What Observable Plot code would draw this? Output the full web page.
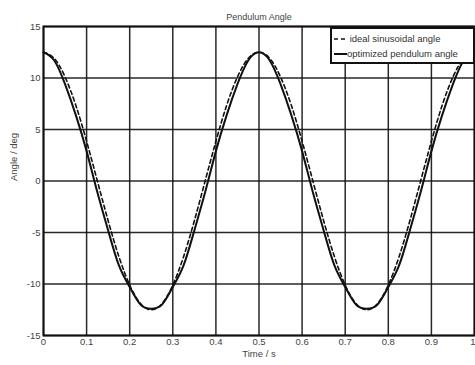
<!DOCTYPE html>
<html><head><meta charset="utf-8">
<script src="https://cdn.jsdelivr.net/npm/d3@7"></script>
<script src="https://cdn.jsdelivr.net/npm/@observablehq/plot@0.6"></script>
<style>
body{margin:0;background:#fff;overflow:hidden}
#wrap{position:relative;width:475px;height:365px}
#legend{position:absolute;left:330px;top:27px;width:141px;height:33px;border:2px solid #111;background:#fff;font-family:"Liberation Sans",Arial,sans-serif;font-size:9.5px;color:#333}
#legend .row{position:absolute;left:2px;height:14px;line-height:14px;white-space:nowrap}
#legend svg{vertical-align:middle}
</style>
</head><body>
<div id="wrap"><div id="legend"></div></div>
<script>
const title = "Pendulum Angle";
const xLabel = "Time / s";
const yLabel = "Angle / deg";
const seriesNames = ["ideal sinusoidal angle", "optimized pendulum angle"];
const xTicks = [0, 0.1, 0.2, 0.3, 0.4, 0.5, 0.6, 0.7, 0.8, 0.9, 1];
const yTicks = [-15, -10, -5, 0, 5, 10, 15];

const times = [0, 0.025, 0.05, 0.075, 0.1, 0.125, 0.15, 0.175, 0.2, 0.225, 0.25,
  0.275, 0.3, 0.325, 0.35, 0.375, 0.4, 0.425, 0.45, 0.475, 0.5,
  0.525, 0.55, 0.575, 0.6, 0.625, 0.65, 0.675, 0.7, 0.725, 0.75,
  0.775, 0.8, 0.825, 0.85, 0.875, 0.9, 0.925, 0.95, 0.975, 1];
const ideal = [12.5, 11.9, 10.1, 7.35, 3.86, 0, -3.86, -7.35, -10.1, -11.9, -12.5,
  -11.9, -10.1, -7.35, -3.86, 0, 3.86, 7.35, 10.1, 11.9, 12.5,
  11.9, 10.1, 7.35, 3.86, 0, -3.86, -7.35, -10.1, -11.9, -12.5,
  -11.9, -10.1, -7.35, -3.86, 0, 3.86, 7.35, 10.1, 11.9, 12.5];
const optimized = [12.5, 11.7, 9.4, 6.4, 2.9, -1.1, -4.8, -8.2, -10.3, -12.0, -12.4,
  -12.0, -10.3, -8.2, -4.8, -1.1, 2.9, 6.4, 9.4, 11.7, 12.5,
  11.7, 9.4, 6.4, 2.9, -1.1, -4.8, -8.2, -10.3, -12.0, -12.4,
  -12.0, -10.3, -8.2, -4.8, -1.1, 2.9, 6.4, 9.4, 11.7, 12.5];

const data = times.map((t, i) => ({t, ideal: ideal[i], opt: optimized[i]}));
const ink = "#111";

const chart = Plot.plot({
  width: 475, height: 365,
  marginLeft: 43, marginRight: 1, marginTop: 26, marginBottom: 30,
  x: {domain: [0, 1], ticks: xTicks},
  y: {domain: [-15, 15], ticks: yTicks},
  style: {fontFamily: "'Liberation Sans', Arial, sans-serif", fontSize: "9.5px", color: "#444", background: "#fff"},
  marks: [
    Plot.gridX(xTicks, {stroke: ink, strokeOpacity: 0.9, strokeWidth: 1.5}),
    Plot.gridY(yTicks, {stroke: ink, strokeOpacity: 0.9, strokeWidth: 1.5}),
    Plot.line(data, {x: "t", y: "ideal", stroke: ink, strokeWidth: 1.6, strokeDasharray: "4,3", curve: "natural"}),
    Plot.line(data, {x: "t", y: "opt", stroke: ink, strokeWidth: 2, curve: "natural"}),
    Plot.frame({stroke: ink, strokeWidth: 2}),
    Plot.axisX(xTicks.slice(0, -1), {tickSize: 0, tickPadding: 3, label: null, tickFormat: d => String(d), fill: "#444"}),
    Plot.axisX(xTicks.slice(-1), {tickSize: 0, tickPadding: 3, label: null, tickFormat: d => String(d), fill: "#444", textAnchor: "end", dx: 1}),
    Plot.axisY(yTicks, {tickSize: 0, tickPadding: 3, label: null, tickFormat: d => String(d), fill: "#444"}),
    Plot.text([title], {frameAnchor: "top", dy: -13, fontSize: 9, fill: "#444"}),
    Plot.text([xLabel], {frameAnchor: "bottom", dy: 21, fontSize: 9.5, fill: "#444"}),
    Plot.text([yLabel], {frameAnchor: "left", dx: -30, rotate: -90, fontSize: 9.5, fill: "#444"})
  ]
});
document.getElementById("wrap").prepend(chart);

const legend = document.getElementById("legend");
seriesNames.forEach((name, i) => {
  const row = document.createElement("div");
  row.className = "row";
  row.style.top = (i === 0 ? 3 : 18) + "px";
  row.innerHTML = `<svg width="13" height="6"><line x1="0" y1="3" x2="13" y2="3" stroke="${ink}" stroke-width="${i === 0 ? 1.6 : 2}" ${i === 0 ? 'stroke-dasharray="4,3"' : ''}/></svg><span>${i === 0 ? ' ' : ''}${name}</span>`;
  legend.appendChild(row);
});
</script>
</body></html>
